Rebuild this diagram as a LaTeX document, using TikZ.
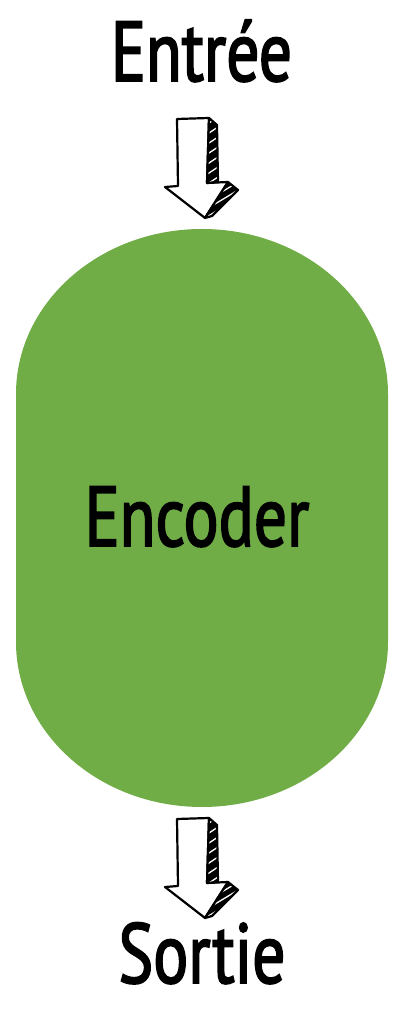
\documentclass[tikz,border=0pt]{standalone}
\usepackage{fontspec}
\setmainfont[FakeStretch=0.77, FakeBold=2]{PT Sans}
\usepackage{tikz}
\usetikzlibrary{positioning}
\definecolor{encoderGreen}{RGB}{112,173,71}
\tikzstyle{encoderShape} = [fill=encoderGreen]
\tikzstyle{labelText} = [font=\fontsize{85}{90}\selectfont, anchor=base, inner sep=0]
\tikzstyle{arrowLine} = [color=black, line width=2.2pt, line join=round, line cap=round]
\tikzstyle{hatchLine} = [color=white, line width=1.3pt]
\newcommand{\arrowFront}{(177,0) -- (209,1) -- (207,-64) -- (228,-63) -- (205,-99) -- (165,-68) -- (178,-67) -- cycle}
\newcommand{\arrowShaftShade}{(209,1) -- (217,-6) -- (218,-63) -- (207,-64) -- cycle}
\newcommand{\arrowHeadShade}{(228,-63) -- (238,-71) -- (212,-97) -- (205,-99) -- cycle}
\newcommand{\sketchArrow}[1]{
  \begin{scope}[shift={(0,#1)}]
    \filldraw [arrowLine, fill=white] \arrowFront;
    \begin{scope}
      \clip \arrowShaftShade;
      \fill [black] \arrowShaftShade;
      \foreach \k in {-80,-70,...,10} {
        \draw [hatchLine] (200,\k) -- ++(24,16);
      }
    \end{scope}
    \begin{scope}
      \clip \arrowHeadShade;
      \fill [black] \arrowHeadShade;
      \foreach \k in {-110,-102,...,-50} {
        \draw [hatchLine] (200,\k) -- ++(40,24);
      }
    \end{scope}
    \draw [arrowLine] \arrowShaftShade;
    \draw [arrowLine] \arrowHeadShade;
  \end{scope}
}

\begin{document}
\begin{tikzpicture}[x=1pt, y=1pt]
  \useasboundingbox (0,0) rectangle (404,1014);
  % encoder body
  \fill [encoderShape] (16,620) arc[start angle=180, end angle=0, x radius=186, y radius=165]
    -- (388,372) arc[start angle=0, end angle=-180, x radius=186, y radius=165] -- cycle;
  \node [labelText] (encoder) at (197,468) {Encoder};

  % input and output
  \node [labelText] (entree) at (201.5,933) {Entrée};
  \node [labelText] (sortie) at (202,31) {Sortie};

  \sketchArrow{895}
  \sketchArrow{195}
\end{tikzpicture}
\end{document}
